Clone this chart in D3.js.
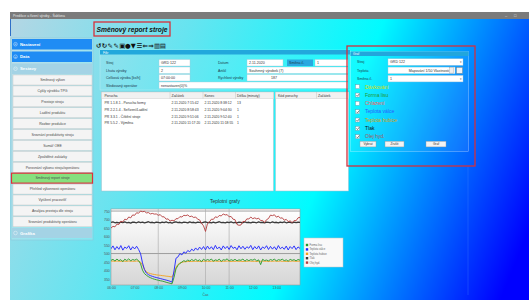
<!DOCTYPE html>
<html>
<head>
<meta charset="utf-8">
<script src="https://cdn.jsdelivr.net/npm/d3@7"></script>
<style>
  body { margin: 0; background: #fff; overflow: hidden; }
  svg { display: block; font-family: "Liberation Sans", Arial, sans-serif; }
</style>
</head>
<body>
<svg id="app" width="529" height="300"></svg>
<script>
// ---- texts ----
const windowTitle = "Predikce a řízení výroby - Šablona";
const pageTitle = "Směnový report stroje";
const menuHeaders = ["Nastavení", "Data", "Sestavy"];
const menuItems = ["Směnový výkon", "Cykly výrobků TPG", "Prostoje strojů", "Ladění produktu",
  "Rozbor produkce", "Srovnání produktivity strojů", "Sumář OEE", "Zpožděné zakázky",
  "Porovnání výkonu strojů/operátorů", "Směnový report stroje", "Přehled výkonnosti operátorů",
  "Vytížení pracovišť", "Analýza prostojů dle strojů", "Srovnání produktivity operátorů"];
const menuFooter = "Grafika";
const activeItem = "Směnový report stroje";
const toolbarGlyphs = ["↺", "↻", "✎", "✎", "▣", "●", "▼", "☰", "⇐", "⇒", "▥", "▤"];

const filterFields = [
  ["Stroj", "GRD 122", "Datum", "2.11.2020"],
  ["Lhůta výroby", "2", "Artikl", "Souhrnný výrobek (7)"],
  ["Celková výroba [ks/h]", "07:00:00", "Rychlost výroby", "187"],
  ["Sledovaný operátor", "nenastaven(0)%", null, null]
];
const shiftLabel = "Směna č.";
const shiftValue = "1";

const faultColumns = ["Porucha", "Začátek", "Konec", "Délka (minuty)"];
const faultRows = [
  ["PR 1.1.8.1 - Porucha formy", "2.11.2020 7:15:42", "2.11.2020 8:38:12", "13"],
  ["PR 2.2.1.4 - Seřízení/Ladění", "2.11.2020 8:58:43", "2.11.2020 9:04:30", "1"],
  ["PR 3.3.1 - Čištění stroje", "2.11.2020 9:51:06", "2.11.2020 9:52:40", "1"],
  ["PR 5.5.2 - Výměna", "2.11.2020 11:17:20", "2.11.2020 11:18:55", "1"]
];
const codeColumns = ["Kód poruchy", "Začátek"];

const graphFields = [["Stroj", "GRD 122"], ["Teplota", "Mapování 1/50 Vlastnosti"], ["Směna č.", "1"]];
const checkLabels = ["Dávkování", "Forma lisu", "Chlazení", "Teplota válce", "Teplota hubice", "Tlak", "Olej hyd."];
const checkStates = [false, true, false, true, true, true, true];
const buttons = ["Vybrat", "Zrušit", "Graf"];

// ---- chart data (samples every 5 minutes from 06:00) ----
const chartTitle = "Teplotní grafy";
const xTitle = "Čas";
const startTime = "06:00";
const stepMinutes = 5;
const hourLabels = ["06:00", "07:00", "08:00", "09:00", "10:00", "11:00", "12:00", "13:00"];
const yTicks = [350, 400, 450, 500, 550, 600, 650, 700, 750];
const gridTimes = ["08:00", "10:00", "11:00"];
const gridValues = [500, 750];

const seriesNames = ["Forma lisu", "Teplota válce", "Teplota hubice", "Tlak", "Olej hyd."];

const greenValues = [
  460,466,456,468,458,464,452,467,459,469,457,465,
  461,467,458,440,402,382,372,364,358,353,349,346,
  343,340,338,335,331,328,325,322,360,410,430,442,
  450,458,453,462,456,465,458,466,457,463,452,467,
  458,465,460,468,455,463,459,467,454,464,461,469,
  456,464,459,466,457,463,460,468,455,465,458,464,
  461,467,457,463,435,466,459,462,457,465,460,468,
  456,464,461,467,458,463,455,466,460,464,457,465,
  461];
const blueValues = [
  528,545,522,541,525,547,520,538,530,546,521,540,
  527,543,524,500,445,405,385,376,370,366,362,359,
  356,353,350,347,344,341,337,332,398,472,480,500,
  492,510,502,518,510,526,516,533,520,538,524,541,
  522,544,526,540,523,548,527,539,521,545,529,542,
  524,547,530,538,522,546,528,543,525,540,531,548,
  523,541,527,545,521,539,530,546,524,542,526,540,
  522,547,528,538,525,544,521,541,529,545,523,539,
  530];
const orangeValues = [
  455,456,454,456,455,454,456,455,454,456,455,455,
  454,456,455,450,432,408,392,386,382,379,377,375,
  373,372,370,369,367,366,364,362,385,418,436,444,
  448,451,452,453,454,453,455,454,455,453,454,455,
  454,455,453,455,454,456,454,455,453,455,454,456,
  455,453,455,454,456,454,455,453,455,454,456,455,
  454,455,453,455,454,456,454,455,453,455,454,456,
  455,454,456,454,455,453,455,454,456,455,454,455,
  455];
const blackValues = [
  683,686,681,684,680,685,682,686,681,683,679,685,
  684,681,686,682,685,680,684,687,682,684,681,685,
  683,680,685,682,686,681,683,679,684,686,682,684,
  681,685,683,680,686,682,684,681,685,683,680,684,
  686,682,683,680,685,681,684,687,682,683,680,685,
  682,686,681,684,680,685,683,681,686,682,684,680,
  685,683,681,686,682,684,680,685,683,681,686,682,
  684,680,685,682,686,681,683,684,680,685,682,684,
  683];
const redValues = [
  650,660,657,673,671,690,686,702,699,715,710,727,
  725,740,737,750,746,748,739,741,733,736,732,733,
  725,729,716,716,702,704,691,696,692,705,705,717,
  715,725,723,727,717,720,712,715,702,698,677,663,
  630,676,686,702,701,716,712,724,721,733,727,729,
  716,718,702,699,671,666,668,689,688,704,703,715,
  705,710,704,708,694,694,683,699,706,726,723,728,
  714,720,708,710,696,701,688,692,682,694,693,710,
  713];

const seriesColors = {
  "Forma lisu": "#23982a", "Teplota válce": "#1c22ff", "Teplota hubice": "#f2a21c",
  "Tlak": "#3a3a3a", "Olej hyd.": "#b43c3c"
};
const checkColors = ["#dde000", "#23982a", "#ff5a5a", "#2a5cff", "#d9a20a", "#111", "#a85858"];

const svg = d3.select("#app");
const defs = svg.append("defs");

// background gradient
const bg = defs.append("linearGradient").attr("id", "bg")
  .attr("gradientUnits", "userSpaceOnUse")
  .attr("x1", 10).attr("y1", 20).attr("x2", 529).attr("y2", 230);
[[0, "#b4d6e4"], [0.3, "#66e4f0"], [0.62, "#00fbff"], [1, "#0000ff"]]
  .forEach(([o, c]) => bg.append("stop").attr("offset", o).attr("stop-color", c));

svg.append("rect").attr("x", 10).attr("y", 19).attr("width", 519).attr("height", 281).attr("fill", "url(#bg)");
svg.append("line").attr("x1", 10.5).attr("x2", 10.5).attr("y1", 19).attr("y2", 36).attr("stroke", "#2f6fc8").attr("stroke-width", 1);

// window title bar
svg.append("rect").attr("x", 10).attr("y", 12).attr("width", 519).attr("height", 7).attr("fill", "#7b7b7b");
svg.append("text").attr("x", 13).attr("y", 17).attr("font-size", 3.4).attr("fill", "#e8e8e8").text(windowTitle);
svg.append("text").attr("x", 505).attr("y", 17.2).attr("font-size", 4).attr("fill", "#e0e0e0").text("–");
svg.append("text").attr("x", 514).attr("y", 17.2).attr("font-size", 4).attr("fill", "#e0e0e0").text("□");

// ---- sidebar ----
const side = svg.append("g");
side.append("rect").attr("x", 11).attr("y", 38).attr("width", 82).attr("height", 202)
  .attr("fill", "rgba(255,255,255,0.18)").attr("stroke", "#8cc6da").attr("stroke-width", 0.6);

function header(y, label, fill, sign) {
  side.append("rect").attr("x", 12).attr("y", y).attr("width", 80).attr("height", 10.5).attr("fill", fill);
  side.append("circle").attr("cx", 15.5).attr("cy", y + 5.2).attr("r", 1.8)
    .attr("fill", "none").attr("stroke", "rgba(255,255,255,0.8)").attr("stroke-width", 0.5);
  side.append("text").attr("x", 15.5).attr("y", y + 6.3).attr("text-anchor", "middle")
    .attr("font-size", 3).attr("fill", "#fff").text(sign);
  side.append("text").attr("x", 20).attr("y", y + 6.8).attr("font-size", 4.3)
    .attr("font-weight", "bold").attr("fill", "#fff").text(label);
}
header(39, menuHeaders[0], "#1f8cf4", "+");
header(51.5, menuHeaders[1], "#1f8cf4", "+");
header(63.5, menuHeaders[2], "#a4d3e5", "−");

const itemY = d3.scaleLinear().domain([0, menuItems.length - 1]).range([75, 216.8]);
menuItems.forEach((m, i) => {
  const active = m === activeItem;
  side.append("rect")
    .attr("x", active ? 11.5 : 13).attr("y", itemY(i)).attr("width", active ? 81 : 79).attr("height", 10)
    .attr("fill", active ? "#86e07e" : "#f4f4f4")
    .attr("stroke", active ? "#e0303a" : "#c9c9c9").attr("stroke-width", active ? 1.2 : 0.5);
  side.append("text").attr("x", 52.5).attr("y", itemY(i) + 6.3).attr("text-anchor", "middle")
    .attr("font-size", 3.5).attr("fill", "#4a4a4a").text(m);
});
side.append("rect").attr("x", 12).attr("y", 228).attr("width", 80).attr("height", 10).attr("fill", "#a4d3e5");
side.append("circle").attr("cx", 15.5).attr("cy", 233).attr("r", 1.8)
  .attr("fill", "none").attr("stroke", "rgba(255,255,255,0.8)").attr("stroke-width", 0.5);
side.append("text").attr("x", 20).attr("y", 234.6).attr("font-size", 4.3).attr("font-weight", "bold")
  .attr("fill", "#fff").text(menuFooter);

// ---- page title and toolbar ----
svg.append("rect").attr("x", 94).attr("y", 22).attr("width", 76).attr("height", 14)
  .attr("fill", "none").attr("stroke", "#d8303a").attr("stroke-width", 1.3);
svg.append("text").attr("x", 96.5).attr("y", 31.6).attr("font-size", 6.7).attr("font-weight", "bold")
  .attr("font-style", "italic").attr("fill", "#111").text(pageTitle);

toolbarGlyphs.forEach((g, i) => {
  svg.append("text").attr("x", 96 + i * 5.8).attr("y", 47.5).attr("font-size", 6.5)
    .attr("font-family", "DejaVu Sans").attr("font-weight", "bold").attr("fill", "#111").text(g);
});

// helper for input boxes
function input(parent, x, y, w, h, text, opt = {}) {
  parent.append("rect").attr("x", x).attr("y", y).attr("width", w).attr("height", h)
    .attr("fill", "#fff").attr("stroke", "#a9c9d6").attr("stroke-width", 0.4);
  parent.append("text").attr("x", opt.right ? x + w - (opt.pad || 2) : x + (opt.pad || 2))
    .attr("y", y + h / 2 + 1.3).attr("text-anchor", opt.right ? "end" : "start")
    .attr("font-size", opt.size || 3.6).attr("fill", "#333").text(text);
  if (opt.arrow) parent.append("text").attr("x", x + w - 2).attr("y", y + h / 2 + 1.2)
    .attr("text-anchor", "middle").attr("font-size", 3).attr("fill", "#555").text("▾");
}

// ---- filter panel ----
const filt = svg.append("g");
filt.append("rect").attr("x", 100).attr("y", 50).attr("width", 250).attr("height", 40)
  .attr("fill", "rgba(255,255,255,0.07)").attr("stroke", "rgba(255,255,255,0.5)").attr("stroke-width", 0.4);
filt.append("rect").attr("x", 100).attr("y", 50).attr("width", 250).attr("height", 4.5).attr("fill", "#22a8dc");
filt.append("text").attr("x", 103).attr("y", 53.6).attr("font-size", 3.2).attr("fill", "#fff").text("Filtr");

const rowY = [59.5, 67, 74.5, 82];
filterFields.forEach((f, i) => {
  const y = rowY[i];
  filt.append("text").attr("x", 106).attr("y", y + 4.5).attr("font-size", 3.6).attr("fill", "#1d3a4c").text(f[0]);
  if (f[2] === null) {
    input(filt, 159, y, 189, 6.5, f[1]);
    return;
  }
  input(filt, 159, y, 31, 6.5, f[1]);
  filt.append("text").attr("x", 218).attr("y", y + 4.5).attr("font-size", 3.6).attr("fill", "#1d3a4c").text(f[2]);
  if (i === 0) {
    input(filt, 247, y, 36, 6.5, f[3]);
    filt.append("rect").attr("x", 287).attr("y", y).attr("width", 26).attr("height", 6.5).attr("fill", "#2aa8e0");
    filt.append("text").attr("x", 289).attr("y", y + 4.5).attr("font-size", 3.6).attr("fill", "#1d3a4c").text(shiftLabel);
    input(filt, 315, y, 33, 6.5, shiftValue);
  } else if (i === 1) {
    input(filt, 247, y, 101, 6.5, f[3]);
  } else {
    input(filt, 247, y, 101, 6.5, f[3], { pad: 24 });
  }
});

// ---- tables ----
const tab = svg.append("g");
function table(x, w, cols, colX, rows) {
  tab.append("rect").attr("x", x).attr("y", 92).attr("width", w).attr("height", 99)
    .attr("fill", "#fff").attr("stroke", "#9fbfcc").attr("stroke-width", 0.5);
  tab.append("rect").attr("x", x).attr("y", 92).attr("width", w).attr("height", 6.5)
    .attr("fill", "#f1f1f1").attr("stroke", "#c4c4c4").attr("stroke-width", 0.4);
  cols.forEach((c, j) => {
    if (j > 0) tab.append("line").attr("x1", colX[j] - 1.5).attr("x2", colX[j] - 1.5)
      .attr("y1", 92).attr("y2", 98.5).attr("stroke", "#bbb").attr("stroke-width", 0.4);
    tab.append("text").attr("x", colX[j]).attr("y", 96.6).attr("font-size", 3.5).attr("fill", "#333").text(c);
  });
  rows.forEach((r, k) => r.forEach((v, j) => {
    tab.append("text").attr("x", colX[j]).attr("y", 104 + k * 6.8).attr("font-size", 3.4).attr("fill", "#333").text(v);
  }));
}
table(101.5, 172, faultColumns, [104.5, 171.5, 204.5, 237], faultRows);
table(275.5, 73, codeColumns, [278, 318], []);

// ---- chart ----
const parse = d3.timeParse("%H:%M");
const t0 = parse(startTime);
const timeAt = i => d3.timeMinute.offset(t0, i * stepMinutes);
const plot = { left: 111, right: 300, top: 209, bottom: 285 };
const x = d3.scaleTime().domain([t0, parse("14:00")]).range([plot.left, plot.right]);
const y = d3.scaleLinear().domain([315, 762]).range([plot.bottom, plot.top]);

const pg = defs.append("linearGradient").attr("id", "plotbg").attr("x1", 0).attr("y1", 0).attr("x2", 0).attr("y2", 1);
pg.append("stop").attr("offset", 0).attr("stop-color", "#ffffff");
pg.append("stop").attr("offset", 1).attr("stop-color", "#d6d6d6");
defs.append("clipPath").attr("id", "clip").append("rect")
  .attr("x", plot.left).attr("y", plot.top).attr("width", plot.right - plot.left).attr("height", plot.bottom - plot.top);

const chart = svg.append("g");
chart.append("text").attr("x", 225).attr("y", 202.5).attr("text-anchor", "middle")
  .attr("font-size", 5).attr("fill", "#333").text(chartTitle);
chart.append("rect").attr("x", plot.left).attr("y", plot.top)
  .attr("width", plot.right - plot.left).attr("height", plot.bottom - plot.top)
  .attr("fill", "url(#plotbg)").attr("stroke", "#9a9a9a").attr("stroke-width", 0.6);

gridValues.forEach(v => chart.append("line").attr("x1", plot.left).attr("x2", plot.right)
  .attr("y1", y(v)).attr("y2", y(v)).attr("stroke", "#8a8a8a").attr("stroke-width", 0.8));
gridTimes.forEach(t => chart.append("line").attr("x1", x(parse(t))).attr("x2", x(parse(t)))
  .attr("y1", plot.top).attr("y2", plot.bottom).attr("stroke", "#a8a8a8").attr("stroke-width", 0.6));

const yAxis = chart.append("g").attr("transform", `translate(${plot.left},0)`)
  .call(d3.axisLeft(y).tickValues(yTicks).tickSize(0).tickPadding(1.2));
const xAxis = chart.append("g").attr("transform", `translate(0,${plot.bottom})`)
  .call(d3.axisBottom(x).tickValues(hourLabels.map(parse)).tickSize(0).tickPadding(1.6)
    .tickFormat(d3.timeFormat("%H:%M")));
[yAxis, xAxis].forEach(a => {
  a.select(".domain").remove();
  a.selectAll("text").attr("font-size", 3.5).attr("fill", "#555").attr("font-family", "Liberation Sans, Arial");
});
chart.append("text").attr("x", (plot.left + plot.right) / 2).attr("y", 295.5).attr("text-anchor", "middle")
  .attr("font-size", 3.3).attr("fill", "#555").text(xTitle);

const line = d3.line().x((d, i) => x(timeAt(i))).y(d => y(d));
const lines = chart.append("g").attr("clip-path", "url(#clip)");
const drawOrder = [["Tlak", blackValues, 1.3], ["Olej hyd.", redValues, 0.9],
  ["Teplota hubice", orangeValues, 0.9], ["Teplota válce", blueValues, 0.9], ["Forma lisu", greenValues, 0.9]];
drawOrder.forEach(([name, vals, w]) => {
  lines.append("path").datum(vals).attr("d", line).attr("fill", "none")
    .attr("stroke", seriesColors[name]).attr("stroke-width", w).attr("stroke-linejoin", "round");
});

// legend
const leg = chart.append("g");
leg.append("rect").attr("x", 304).attr("y", 238).attr("width", 39).attr("height", 29)
  .attr("fill", "#f9f9f9").attr("stroke", "#c4c4c4").attr("stroke-width", 0.5);
seriesNames.forEach((n, i) => {
  const cy = 245 + i * 4.4;
  leg.append("rect").attr("x", 305.8).attr("y", cy - 1.2).attr("width", 2.4).attr("height", 2.4)
    .attr("fill", seriesColors[n]);
  leg.append("text").attr("x", 309.5).attr("y", cy + 1).attr("font-size", 2.7).attr("fill", "#666").text(n);
});

// ---- graph settings panel ----
const gp = svg.append("g");
gp.append("rect").attr("x", 350.5).attr("y", 51.5).attr("width", 118).attr("height", 100)
  .attr("fill", "rgba(255,255,255,0.06)").attr("stroke", "rgba(255,255,255,0.55)").attr("stroke-width", 0.5);
gp.append("rect").attr("x", 350.5).attr("y", 51.5).attr("width", 118).attr("height", 4.5).attr("fill", "#22a6dc");
gp.append("text").attr("x", 353).attr("y", 55).attr("font-size", 3.2).attr("fill", "#fff").text("Graf");
graphFields.forEach((f, i) => {
  const yy = 58.8 + i * 8.3;
  gp.append("text").attr("x", 357).attr("y", yy + 4.5).attr("font-size", 3.6).attr("fill", "#1d3a4c").text(f[0]);
  if (i === 1) {
    input(gp, 388, yy, 67, 6.5, f[1], { right: true, pad: 6 });
    gp.append("rect").attr("x", 449.5).attr("y", yy + 0.5).attr("width", 4).attr("height", 5.5)
      .attr("fill", "#eee").attr("stroke", "#888").attr("stroke-width", 0.3);
    gp.append("rect").attr("x", 456.5).attr("y", yy + 0.3).attr("width", 6).attr("height", 6)
      .attr("fill", "#f4f4f4").attr("stroke", "#777").attr("stroke-width", 0.4);
  } else {
    input(gp, 388, yy, 75, 6.5, f[1], { arrow: true });
  }
});
checkLabels.forEach((c, i) => {
  const cy = 86.7 + i * 8.33;
  gp.append("rect").attr("x", 355.5).attr("y", cy - 2).attr("width", 4).attr("height", 4)
    .attr("fill", "#fff").attr("stroke", "#6a8a9a").attr("stroke-width", 0.4);
  if (checkStates[i]) gp.append("path")
    .attr("d", `M356.4,${cy} l1.1,1.2 l1.8,-2.4`).attr("fill", "none").attr("stroke", "#333").attr("stroke-width", 0.6);
  gp.append("text").attr("x", 365).attr("y", cy + 1.8).attr("font-size", 5).attr("fill", checkColors[i]).text(c);
});
[[360, 16], [385, 19], [426, 20]].forEach(([bx, bw], i) => {
  gp.append("rect").attr("x", bx).attr("y", 141.3).attr("width", bw).attr("height", 5.6)
    .attr("fill", "#f3f3f3").attr("stroke", "#9a9a9a").attr("stroke-width", 0.4);
  gp.append("text").attr("x", bx + bw / 2).attr("y", 145.3).attr("text-anchor", "middle")
    .attr("font-size", 3.2).attr("fill", "#333").text(buttons[i]);
});
gp.append("rect").attr("x", 347).attr("y", 46).attr("width", 128).attr("height", 120)
  .attr("fill", "none").attr("stroke", "#d2303e").attr("stroke-width", 1.3);
svg.append("line").attr("x1", 468).attr("x2", 468).attr("y1", 167).attr("y2", 295)
  .attr("stroke", "rgba(80,150,255,0.5)").attr("stroke-width", 0.5);
</script>
</body>
</html>
